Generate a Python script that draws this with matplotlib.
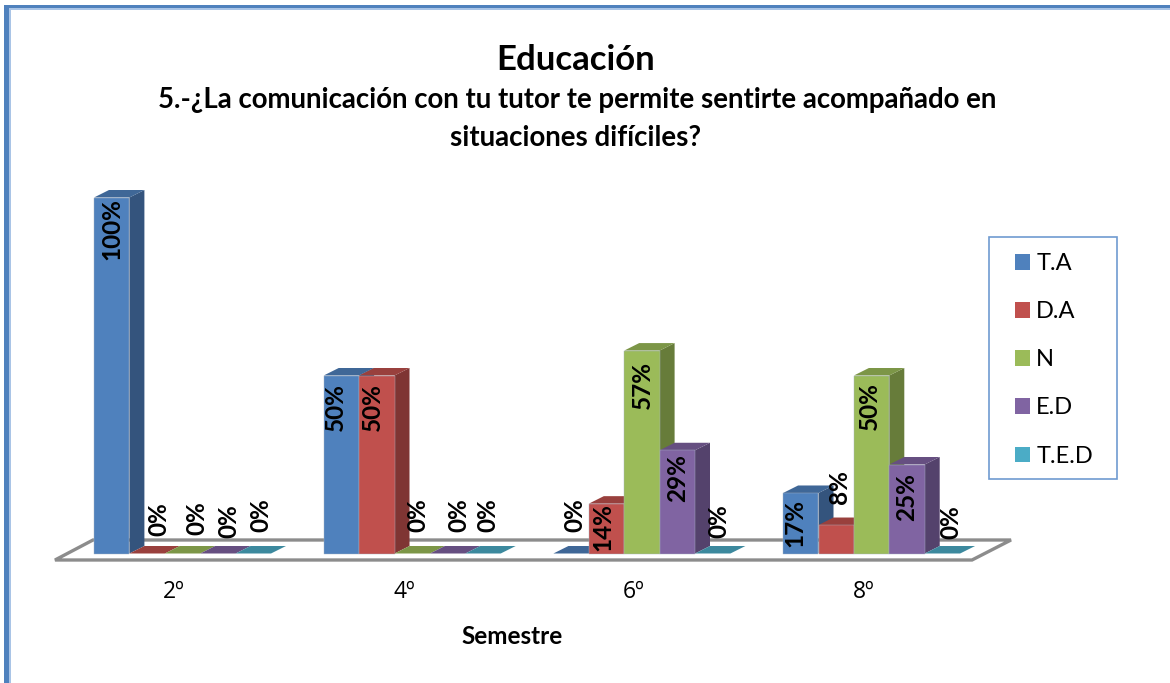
import numpy as np
import matplotlib
matplotlib.use('Agg')
import matplotlib.pyplot as plt
from matplotlib.patches import Patch, Polygon, Rectangle

plt.rcParams['font.family'] = ['Lato', 'DejaVu Sans']

semestres = ['2º', '4º', '6º', '8º']
series = ['T.A', 'D.A', 'N', 'E.D', 'T.E.D']
t_a = [100, 50, 0, 17]
d_a = [0, 50, 14, 8]
n = [0, 0, 57, 50]
e_d = [0, 0, 29, 25]
t_e_d = [0, 0, 0, 0]
valores = np.array([t_a, d_a, n, e_d, t_e_d])

colores = ['#4F81BD', '#C0504D', '#9BBB59', '#8064A2', '#4BACC6']
lados = ['#34547D', '#7F3533', '#677C3A', '#54426C', '#317284']
techos = ['#3F6797', '#99403D', '#7C9647', '#664F81', '#3C899E']

# desplazamiento de cada etiqueta (px) respecto a la cima de su barra, [serie][grupo]
off_x = [[0, -6, 4, -6], [12, -4, -4, 3], [14, 6, 1, -2], [11, 11, 0, 0], [8, 5, 6, 8]]
off_y = [[32, 32, -38, 30], [-34, 32, 23, -38], [-35, -38, 34, 31], [-32, -38, 28, 33], [-38, -38, -32, -31]]

W, H = 1170, 683
fig = plt.figure(figsize=(W / 100, H / 100), dpi=100)
ax = fig.add_axes([0, 0, 1, 1])

# escala: 229.7 px por grupo, 3.56 px por punto porcentual
px_x, px_y = 229.7, 3.56
x0, y0 = 182.5, 553.5
ax.set_xlim(-x0 / px_x, (W - x0) / px_x)
ax.set_ylim((y0 - H) / px_y, y0 / px_y)
ax.axis('off')

ancho = 35.4 / px_x
dx, dy = 15 / px_x, 7.5 / px_y


def figpx(x, y):
    return x / W, 1 - y / H


# marco azul
for xy, w, h, c in [((9, 8), 1.5, H, '#A9C4E6'), ((9, 8), W, 1.5, '#A9C4E6'),
                    ((4, 5), 5, H, '#4F81BD'), ((4, 5), W, 3.2, '#4F81BD')]:
    fig.add_artist(Rectangle(figpx(xy[0], xy[1] + h), w / W, h / H,
                             transform=fig.transFigure, fc=c, ec='none'))

# suelo del grafico
bx = lambda p: (p - x0) / px_x
by = lambda p: (y0 - p) / px_y
ax.add_patch(Polygon([(bx(55), by(560)), (bx(93), by(540)), (bx(1011), by(540)), (bx(972), by(560))],
                     closed=True, fc='white', ec='#8C8C8C', lw=2.4, joinstyle='miter', zorder=1))

# barras: cara lateral, techo y frente
for g in range(len(semestres)):
    for s in range(len(series)):
        v = valores[s][g]
        x = g + (s - 2.5) * ancho
        if v > 0:
            ax.add_patch(Polygon([(x + ancho, 0), (x + ancho + dx, dy), (x + ancho + dx, v + dy), (x + ancho, v)],
                                 fc=lados[s], ec='none', zorder=2 + s))
        ax.add_patch(Polygon([(x, v), (x + dx, v + dy), (x + ancho + dx, v + dy), (x + ancho, v)],
                             fc=techos[s], ec='none', zorder=2 + s))
        if v > 0:
            ax.bar(x, v, width=ancho, align='edge', color=colores[s], edgecolor='#A8B4C4', linewidth=0.3, zorder=2 + s)

# etiquetas de datos
for g in range(len(semestres)):
    for s in range(len(series)):
        v = valores[s][g]
        x = g + (s - 2) * ancho
        ax.annotate(f'{v}%', (x, v), xytext=(off_x[s][g] * 0.72, -off_y[s][g] * 0.72),
                    textcoords='offset points', rotation=90, ha='center', va='center',
                    fontsize=17.5, fontweight='bold', color='black', zorder=20)

# etiquetas de semestre
for g, et in enumerate(semestres):
    ax.annotate(et, (g, 0), xytext=(-6, -28), textcoords='offset points', ha='center', va='center',
                fontsize=16.5, family='Open Sans', color='black')

ax.text(*figpx(512, 636), 'Semestre', transform=fig.transFigure, ha='center', va='center',
        fontsize=17.5, fontweight='bold')
ax.text(*figpx(576, 60), 'Educación', transform=fig.transFigure, ha='center', va='center',
        fontsize=25, fontweight='bold')
ax.text(*figpx(577, 100), '5.-¿La comunicación con tu tutor te permite sentirte acompañado en',
        transform=fig.transFigure, ha='center', va='center', fontsize=19.9, fontweight='bold')
ax.text(*figpx(576, 138), 'situaciones difíciles?', transform=fig.transFigure, ha='center', va='center',
        fontsize=19.9, fontweight='bold')

# leyenda: caja aparte porque los margenes no son iguales
fig.add_artist(Rectangle(figpx(989, 479), 128 / W, 242 / H, transform=fig.transFigure,
                         fc='white', ec='#6F9BD1', lw=1.2, zorder=5))
handles = [Patch(fc=c, ec='none', label=l) for c, l in zip(colores, series)]
leg = fig.legend(handles=handles, loc='upper left', bbox_to_anchor=figpx(1015, 253), bbox_transform=fig.transFigure,
                 fontsize=17, frameon=False, handlelength=0.64, handleheight=0.64, handletextpad=0.26,
                 labelspacing=1.15, borderpad=0, borderaxespad=0)
leg.set_zorder(6)

fig.savefig('out.png', dpi=100)
